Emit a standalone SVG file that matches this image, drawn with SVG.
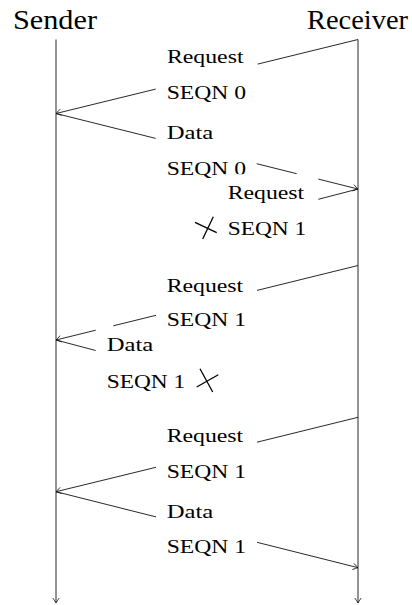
<svg xmlns="http://www.w3.org/2000/svg" width="412" height="605" viewBox="0 0 412 605">
<style>
.t{font-family:"Liberation Serif","Times New Roman",serif;fill:#000}
.title{font-size:28px}
.lbl{font-size:19px}
.ln{fill:none;stroke:#111;stroke-width:0.9}
.x{fill:none;stroke:#000;stroke-width:1.3}
</style>
<defs>
<marker id="to" markerUnits="userSpaceOnUse" orient="auto" refX="0" refY="0" markerWidth="8" markerHeight="8" viewBox="-6 -4 8 8" overflow="visible">
<path d="M-5,-3.2 Q-1.8,-0.9 0,0 Q-1.8,0.9 -5,3.2" fill="none" stroke="#111" stroke-width="0.8"/>
</marker>
</defs>
<rect width="412" height="605" fill="#fff"/>
<g id="sender">
<text class="t title" x="13" y="28.7" textLength="84" lengthAdjust="spacingAndGlyphs">Sender</text>
</g>
<g id="receiver">
<text class="t title" x="307" y="28.7" textLength="101" lengthAdjust="spacingAndGlyphs">Receiver</text>
</g>
<g id="connectors">
<path class="ln" d="M56,39.5 L56,603" marker-end="url(#to)"/>
<path class="ln" d="M358,39.5 L358,603" marker-end="url(#to)"/>
<path class="ln" d="M358,39.5 L257.7,64.1 M155.7,89.1 L56,113.5" marker-end="url(#to)"/>
<path class="ln" d="M56,113.5 L155.7,138.4 M256.7,163.7 L296.7,173.7 M318.3,179.1 L358,189" marker-end="url(#to)"/>
<path class="ln" d="M358,189 L318.3,199.3"/>
<path class="ln" d="M358,265.5 L257,290.4 M156,315.3 L113.3,325.8 M95.7,330.2 L56,340" marker-end="url(#to)"/>
<path class="ln" d="M56,340 L95.7,350.5"/>
<path class="ln" d="M358,417.3 L257,442.2 M156,467.3 L56,491.7" marker-end="url(#to)"/>
<path class="ln" d="M56,491.7 L156,516.9 M257,542.3 L358,567.7" marker-end="url(#to)"/>
<path class="x" d="M195,222.3 L216.7,232.7 M213.3,216.7 L202.7,239"/>
<path class="x" d="M200,368.7 L212.7,392 M196.7,387 L218.3,374.7"/>
</g>
<g id="msg1">
<text class="t lbl" x="167" y="63.3" textLength="76.5" lengthAdjust="spacingAndGlyphs">Request</text>
<text class="t lbl" x="166.7" y="99" textLength="79.5" lengthAdjust="spacingAndGlyphs">SEQN 0</text>
</g>
<g id="msg2">
<text class="t lbl" x="166.7" y="138.7" textLength="46.6" lengthAdjust="spacingAndGlyphs">Data</text>
<text class="t lbl" x="166.7" y="175" textLength="79.5" lengthAdjust="spacingAndGlyphs">SEQN 0</text>
</g>
<g id="msg3">
<rect x="217" y="174.2" width="101" height="30" fill="#fff"/>
<text class="t lbl" x="227.7" y="199.3" textLength="76.5" lengthAdjust="spacingAndGlyphs">Request</text>
<text class="t lbl" x="227.7" y="235" textLength="78.5" lengthAdjust="spacingAndGlyphs">SEQN 1</text>
</g>
<g id="msg4">
<text class="t lbl" x="166.7" y="291.7" textLength="76.5" lengthAdjust="spacingAndGlyphs">Request</text>
<text class="t lbl" x="166.7" y="325.7" textLength="79.5" lengthAdjust="spacingAndGlyphs">SEQN 1</text>
</g>
<g id="msg5">
<text class="t lbl" x="106.7" y="350.7" textLength="46.6" lengthAdjust="spacingAndGlyphs">Data</text>
<text class="t lbl" x="106.7" y="387.7" textLength="78.5" lengthAdjust="spacingAndGlyphs">SEQN 1</text>
</g>
<g id="msg6">
<text class="t lbl" x="166.7" y="442.3" textLength="76.5" lengthAdjust="spacingAndGlyphs">Request</text>
<text class="t lbl" x="166.7" y="477.7" textLength="79.5" lengthAdjust="spacingAndGlyphs">SEQN 1</text>
</g>
<g id="msg7">
<text class="t lbl" x="166.7" y="518.3" textLength="46.6" lengthAdjust="spacingAndGlyphs">Data</text>
<text class="t lbl" x="166.7" y="553.3" textLength="79.5" lengthAdjust="spacingAndGlyphs">SEQN 1</text>
</g>
</svg>
